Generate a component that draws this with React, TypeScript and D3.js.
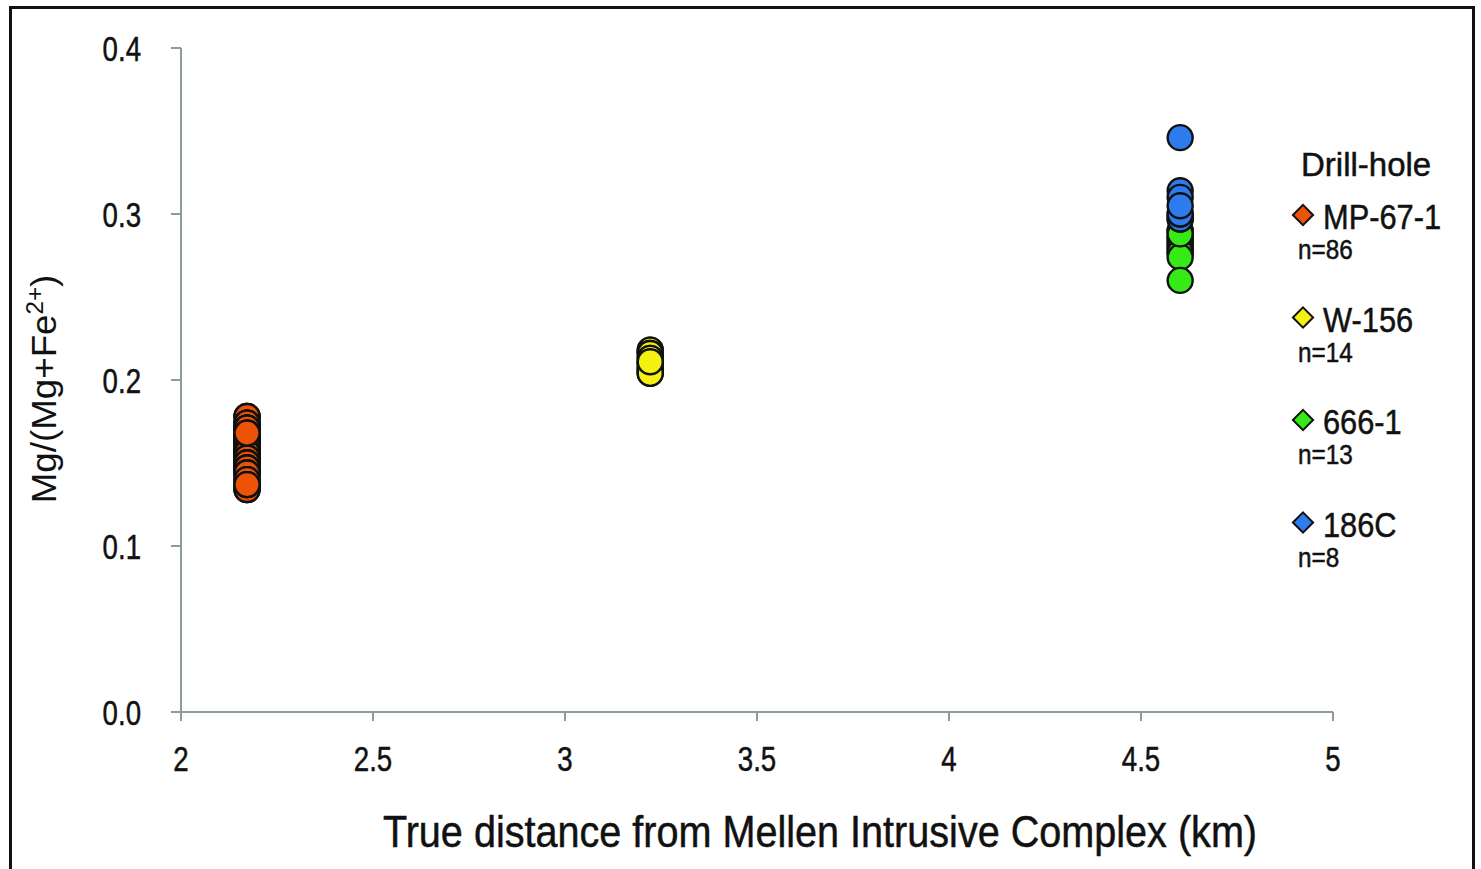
import * as d3 from 'd3';

const xTicks = [2, 2.5, 3, 3.5, 4, 4.5, 5];
const yTicks = [0, 0.1, 0.2, 0.3, 0.4];

const seriesNames = ['MP-67-1', 'W-156', '666-1', '186C'];
const seriesCounts = ['n=86', 'n=14', 'n=13', 'n=8'];
const seriesColors = ['#EC5306', '#F4F010', '#36EA16', '#2C7CF0'];
const seriesX = [2.172, 3.222, 4.602, 4.602];

const mp67Values = [
  0.178, 0.178, 0.178, 0.174, 0.174, 0.174, 0.174, 0.171, 0.171, 0.171,
  0.171, 0.171, 0.171, 0.168, 0.168, 0.168, 0.168, 0.165, 0.165, 0.165,
  0.165, 0.165, 0.165, 0.165, 0.165, 0.162, 0.162, 0.162, 0.162, 0.162,
  0.162, 0.162, 0.162, 0.159, 0.159, 0.159, 0.159, 0.159, 0.159, 0.159,
  0.159, 0.159, 0.156, 0.156, 0.156, 0.156, 0.156, 0.156, 0.156, 0.156,
  0.156, 0.153, 0.153, 0.153, 0.153, 0.153, 0.153, 0.153, 0.153, 0.150,
  0.150, 0.150, 0.150, 0.150, 0.150, 0.150, 0.147, 0.147, 0.147, 0.147,
  0.147, 0.147, 0.144, 0.144, 0.144, 0.144, 0.140, 0.140, 0.140, 0.134,
  0.134, 0.134, 0.137, 0.137, 0.137, 0.168
];
const w156Values = [
  0.218, 0.218, 0.216, 0.216, 0.213, 0.213, 0.210, 0.210, 0.207, 0.207,
  0.205, 0.204, 0.204, 0.211
];
const hole666Values = [
  0.290, 0.290, 0.286, 0.286, 0.283, 0.283, 0.280, 0.280, 0.277, 0.277,
  0.274, 0.260, 0.288
];
const hole186Values = [0.346, 0.297, 0.297, 0.300, 0.300, 0.314, 0.310, 0.305];

const allValues = [mp67Values, w156Values, hole666Values, hole186Values];

const WIDTH = 1481;
const HEIGHT = 869;
const FONT = "'Liberation Sans', Arial, sans-serif";

// narrow text: Liberation Sans squeezed horizontally to mimic a condensed face
function NText({ x, y, sx = 1, size, anchor = 'start', children, dy }: any) {
  return (
    <text
      transform={`translate(${x},${y}) scale(${sx},1)`}
      textAnchor={anchor}
      fontSize={size}
      dy={dy}
      fill="#111"
      stroke="#111"
      strokeWidth={0.5}
    >
      {children}
    </text>
  );
}

export default function App() {
  const x = d3.scaleLinear().domain([2, 5]).range([181, 1333]);
  const y = d3.scaleLinear().domain([0, 0.4]).range([712, 48]);
  const axisColor = '#8E9C9C';
  const fmtY = d3.format('.1f');

  const legendTop = 215;
  const legendStep = 102.5;

  return (
    <svg
      width={WIDTH}
      height={HEIGHT}
      style={{ position: 'absolute', left: 0, top: 0, background: '#fff' }}
      fontFamily={FONT}
    >
      {/* frame */}
      <rect x={10.5} y={7.5} width={1463} height={900} fill="none" stroke="#111" strokeWidth={3} />

      {/* axes */}
      <line x1={x(2)} x2={x(5)} y1={y(0)} y2={y(0)} stroke={axisColor} strokeWidth={2} />
      <line x1={x(2)} x2={x(2)} y1={y(0)} y2={y(0.4)} stroke={axisColor} strokeWidth={2} />
      {xTicks.map((t) => (
        <g key={`x${t}`}>
          <line x1={x(t)} x2={x(t)} y1={y(0)} y2={y(0) + 9} stroke={axisColor} strokeWidth={2} />
          <NText x={x(t)} y={771} sx={0.79} size={35} anchor="middle">
            {t}
          </NText>
        </g>
      ))}
      {yTicks.map((t) => (
        <g key={`y${t}`}>
          <line x1={x(2) - 10} x2={x(2)} y1={y(t)} y2={y(t)} stroke={axisColor} strokeWidth={2} />
          <NText x={141} y={y(t)} sx={0.79} size={35} anchor="end" dy="0.36em">
            {fmtY(t)}
          </NText>
        </g>
      ))}

      {/* axis titles */}
      <NText x={820} y={847} sx={0.9} size={44} anchor="middle">
        True distance from Mellen Intrusive Complex (km)
      </NText>
      <text
        transform={`translate(56, 389) rotate(-90) scale(1.05,1)`}
        textAnchor="middle"
        fontSize={35}
        fill="#111"
      >
        Mg/(Mg+Fe
        <tspan fontSize={23} dy={-13}>2+</tspan>
        <tspan dy={13}>)</tspan>
      </text>

      {/* points */}
      {allValues.map((values, si) => (
        <g key={seriesNames[si]}>
          {values.map((v, i) => (
            <circle
              key={i}
              cx={x(seriesX[si])}
              cy={y(v)}
              r={12.5}
              fill={seriesColors[si]}
              stroke="#111"
              strokeWidth={2.4}
            />
          ))}
        </g>
      ))}

      {/* legend */}
      <NText x={1301} y={176} sx={1} size={33}>
        Drill-hole
      </NText>
      {seriesNames.map((name, i) => {
        const cy = legendTop + i * legendStep;
        return (
          <g key={name}>
            <path
              d={d3.symbol(d3.symbolDiamond2, 260)() || ''}
              transform={`translate(1303, ${cy})`}
              fill={seriesColors[i]}
              stroke="#111"
              strokeWidth={2}
            />
            <NText x={1323} y={cy + 14} sx={0.88} size={35}>
              {name}
            </NText>
            <NText x={1298} y={cy + 44} sx={0.9} size={27}>
              {seriesCounts[i]}
            </NText>
          </g>
        );
      })}
    </svg>
  );
}
